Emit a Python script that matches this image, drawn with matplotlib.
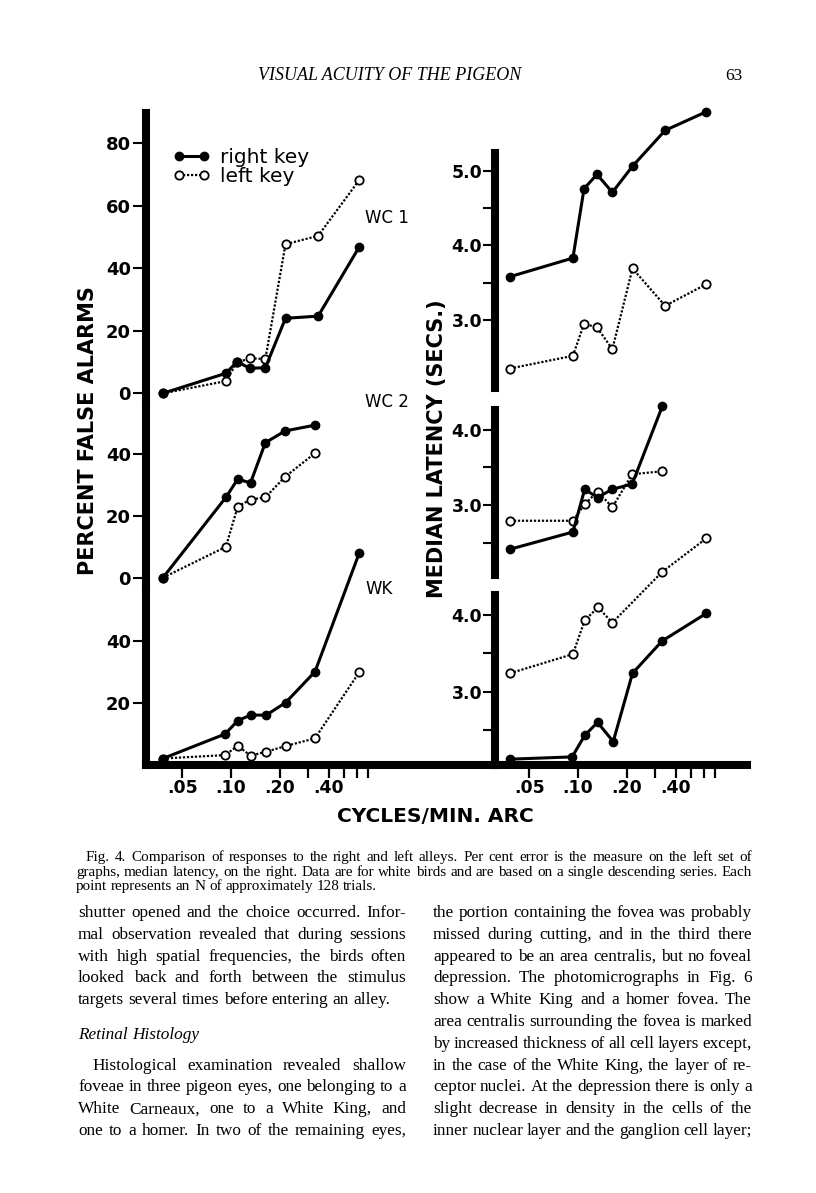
import matplotlib
matplotlib.use("Agg")
import matplotlib.pyplot as plt
from matplotlib.ticker import NullFormatter
from matplotlib.lines import Line2D

W, H = 816, 1193

# spatial frequency (cycles/min arc) of each point
freq_wc1 = [0.038, 0.093, 0.109, 0.131, 0.163, 0.217, 0.345, 0.62]
freq_wc2 = [0.038, 0.093, 0.110, 0.132, 0.163, 0.216, 0.332]
freq_wk = [0.038, 0.092, 0.110, 0.132, 0.165, 0.217, 0.33, 0.618]
freq_wk_lat_left = [0.038, 0.093, 0.110, 0.133, 0.163, 0.33, 0.62]

# percent false alarms (left graphs)
wc1_fa_right = [0, 6.4, 10.1, 8.0, 8.2, 24.0, 24.7, 46.9]
wc1_fa_left = [0, 3.9, 9.9, 11.2, 11.0, 47.7, 50.4, 68.3]
wc2_fa_right = [0, 26.0, 31.9, 30.7, 43.7, 47.5, 49.4]
wc2_fa_left = [0, 10.0, 23.0, 25.3, 26.0, 32.7, 40.4]
wk_fa_right = [2.0, 9.9, 14.2, 16.0, 16.0, 20.0, 30.0, 68.2]
wk_fa_left = [2.0, 3.1, 6.1, 2.9, 4.2, 6.0, 8.5, 29.8]

# median latency in secs (right graphs)
wc1_lat_right = [3.58, 3.83, 4.76, 4.95, 4.71, 5.06, 5.54, 5.79]
wc1_lat_left = [2.35, 2.52, 2.95, 2.90, 2.61, 3.69, 3.19, 3.48]
wc2_lat_right = [2.41, 2.64, 3.21, 3.10, 3.21, 3.28, 4.32]
wc2_lat_left = [2.79, 2.79, 3.01, 3.18, 2.97, 3.41, 3.45]
wk_lat_right = [2.12, 2.15, 2.43, 2.60, 2.35, 3.24, 3.66, 4.02]
wk_lat_left = [3.24, 3.49, 3.93, 4.10, 3.90, 4.56, 5.00]

x_ticks = [0.05, 0.1, 0.2, 0.4]
x_tick_labels = [".05", ".10", ".20", ".40"]
x_minor = [0.3, 0.5, 0.6, 0.7]

caption = [
    "Fig. 4. Comparison of responses to the right and left alleys. Per cent error is the measure on the left set of",
    "graphs, median latency, on the right. Data are for white birds and are based on a single descending series. Each",
    "point represents an N of approximately 128 trials.",
]
left_col = [
    "shutter opened and the choice occurred. Infor-",
    "mal observation revealed that during sessions",
    "with high spatial frequencies, the birds often",
    "looked back and forth between the stimulus",
    "targets several times before entering an alley.",
]
left_col2 = [
    "Histological examination revealed shallow",
    "foveae in three pigeon eyes, one belonging to a",
    "White Carneaux, one to a White King, and",
    "one to a homer. In two of the remaining eyes,",
]
right_col = [
    "the portion containing the fovea was probably",
    "missed during cutting, and in the third there",
    "appeared to be an area centralis, but no foveal",
    "depression. The photomicrographs in Fig. 6",
    "show a White King and a homer fovea. The",
    "area centralis surrounding the fovea is marked",
    "by increased thickness of all cell layers except,",
    "in the case of the White King, the layer of re-",
    "ceptor nuclei. At the depression there is only a",
    "slight decrease in density in the cells of the",
    "inner nuclear layer and the ganglion cell layer;",
]

fig = plt.figure(figsize=(W / 100, H / 100), dpi=100)
fig.patch.set_facecolor("white")

BAR = 5.8  # thick black axis bars, in points


def box(x0, x1, ytop, ybot, bottom=False):
    # axes placed by page pixels (top-left origin)
    ax = fig.add_axes([x0 / W, 1 - ybot / H, (x1 - x0) / W, (ybot - ytop) / H])
    ax.patch.set_alpha(0)
    for name, s in ax.spines.items():
        s.set_visible(name == "left" or (bottom and name == "bottom"))
        s.set_linewidth(BAR)
        s.set_capstyle("projecting")
    return ax


def set_x(ax, x0, x1, x_tenth):
    # hand drawn log axis: about 162 px per decade
    ax.set_xscale("log")
    f = lambda px: 0.1 * 10 ** ((px - x_tenth) / 162.0)
    ax.set_xlim(f(x0), f(x1))


def set_y(ax, ytop, ybot, px_ref, val_ref, px_per_unit):
    v = lambda px: val_ref + (px_ref - px) / px_per_unit
    ax.set_ylim(v(ybot), v(ytop))


def plot_pair(ax, x_r, y_r, x_l, y_l):
    ax.plot(x_l, y_l, color="black", lw=1.6, ls=(0, (1, 0.8)), marker="o", ms=6,
            mfc="white", mec="black", mew=1.3, clip_on=False)
    ax.plot(x_r, y_r, color="black", lw=2.2, marker="o", ms=6,
            mfc="black", mec="black", clip_on=False)


def bottom_ticks(ax):
    ax.set_xticks(x_ticks, labels=x_tick_labels, fontweight="bold", fontsize=12.5)
    ax.set_xticks(x_minor, minor=True)
    ax.xaxis.set_minor_formatter(NullFormatter())
    ax.tick_params(axis="x", which="both", direction="out", length=9, width=1.6, pad=1)


def no_x(ax):
    ax.tick_params(axis="x", which="both", bottom=False, labelbottom=False)


# ---- left: percent false alarms ----
ax1 = box(146, 420, 113, 400)
set_x(ax1, 146, 420, 231)
set_y(ax1, 113, 400, 393.3, 0, 3.125)
plot_pair(ax1, freq_wc1, wc1_fa_right, freq_wc1, wc1_fa_left)
ax1.set_yticks([0, 20, 40, 60, 80], labels=["0", "20", "40", "60", "80"], fontweight="bold", fontsize=13)

ax2 = box(146, 420, 400, 585)
set_x(ax2, 146, 420, 231)
set_y(ax2, 400, 585, 577.7, 0, 3.09)
plot_pair(ax2, freq_wc2, wc2_fa_right, freq_wc2, wc2_fa_left)
ax2.set_yticks([0, 20, 40], labels=["0", "20", "40"], fontweight="bold", fontsize=13)

ax3 = box(146, 495, 585, 765, bottom=True)
set_x(ax3, 146, 495, 231)
set_y(ax3, 585, 765, 764.7, 0, 3.1)
plot_pair(ax3, freq_wk, wk_fa_right, freq_wk, wk_fa_left)
ax3.set_yticks([20, 40], labels=["20", "40"], fontweight="bold", fontsize=13)

for ax in (ax1, ax2, ax3):
    ax.tick_params(axis="y", which="both", direction="out", length=9.4, width=1.5, pad=1.5)
no_x(ax1)
no_x(ax2)
bottom_ticks(ax3)

# ---- right: median latency ----
ax4 = box(495, 747, 153, 388)
set_x(ax4, 495, 747, 578)
set_y(ax4, 153, 388, 320, 3.0, 74.65)
plot_pair(ax4, freq_wc1, wc1_lat_right, freq_wc1, wc1_lat_left)
ax4.set_yticks([3, 4, 5], labels=["3.0", "4.0", "5.0"], fontweight="bold", fontsize=12.5)
ax4.set_yticks([3.5, 4.5], minor=True)

ax5 = box(495, 747, 410, 575)
set_x(ax5, 495, 747, 578)
set_y(ax5, 410, 575, 505, 3.0, 75)
plot_pair(ax5, freq_wc2, wc2_lat_right, freq_wc2, wc2_lat_left)
ax5.set_yticks([3, 4], labels=["3.0", "4.0"], fontweight="bold", fontsize=12.5)
ax5.set_yticks([2.5, 3.5], minor=True)

ax6 = box(495, 747, 595, 765, bottom=True)
set_x(ax6, 495, 747, 578)
set_y(ax6, 595, 765, 691.7, 3.0, 76.7)
plot_pair(ax6, freq_wk, wk_lat_right, freq_wk_lat_left, wk_lat_left)
ax6.set_yticks([3, 4], labels=["3.0", "4.0"], fontweight="bold", fontsize=12.5)
ax6.set_yticks([2.5, 3.5], minor=True)

for ax in (ax4, ax5, ax6):
    ax.yaxis.set_minor_formatter(NullFormatter())
    ax.tick_params(axis="y", which="both", direction="out", length=8.6, width=1.5, pad=0.5)
no_x(ax4)
no_x(ax5)
bottom_ticks(ax6)

# legend
handles = [
    Line2D([], [], color="black", lw=2.2, marker="o", ms=6, mfc="black"),
    Line2D([], [], color="black", lw=1.6, ls=(0, (1, 0.8)), marker="o", ms=6, mfc="white", mew=1.3),
]
fig.legend(handles, ["right key", "left key"], loc="upper left", bbox_to_anchor=(173 / W, 1 - 148 / H),
           frameon=False, numpoints=2, handlelength=1.85, handletextpad=0.5, labelspacing=0.02,
           borderpad=0, borderaxespad=0, prop={"size": 14.5})

# subject names
for name, y in [("WC 1", 218), ("WC 2", 402), ("WK", 589)]:
    fig.text(365 / W, 1 - y / H, name, fontsize=12, ha="left", va="center")

fig.text(88 / W, 1 - 431 / H, "PERCENT FALSE ALARMS", rotation=90, ha="center", va="center",
         fontsize=15, fontweight="bold")
fig.text(437 / W, 1 - 449 / H, "MEDIAN LATENCY (SECS.)", rotation=90, ha="center", va="center",
         fontsize=15, fontweight="bold")
fig.text(435 / W, 1 - 817 / H, "CYCLES/MIN. ARC", ha="center", va="center", fontsize=14.5, fontweight="bold")

# page header
fig.text(390 / W, 1 - 80 / H, "VISUAL ACUITY OF THE PIGEON", family="Liberation Serif", style="italic",
         fontsize=13, ha="center", va="baseline")
fig.text(742 / W, 1 - 80 / H, "63", family="Liberation Serif", fontsize=12.5, ha="right", va="baseline")

# ---- caption and body text, justified word by word ----
renderer = fig.canvas.get_renderer()


def put_line(text, x0, x1, y, size, style="normal", justify=True, indent=0):
    words = text.split(" ")
    arts = [fig.text(0, 1 - y / H, w, family="Liberation Serif", fontsize=size, style=style, va="baseline")
            for w in words]
    widths = [a.get_window_extent(renderer=renderer).width for a in arts]
    x = x0 + indent
    normal = 0.25 * size * 100 / 72
    gap = normal
    if len(words) > 1:
        fit = (x1 - x - sum(widths)) / (len(words) - 1)
        gap = fit if justify else min(normal, fit)
    for a, w in zip(arts, widths):
        a.set_x(x / W)
        x += w + gap


cap_y = [861, 876, 890]
for i, line in enumerate(caption):
    put_line(line, 76, 752, cap_y[i], 10.9, justify=(i < 2), indent=(10 if i == 0 else 0))

step = 21.8
body = 12.4
for i, line in enumerate(left_col):
    put_line(line, 78, 406, 917 + step * i, body, justify=(i < 4))
put_line("Retinal Histology", 78, 406, 917 + step * 5.6, body, style="italic", justify=False)
for i, line in enumerate(left_col2):
    put_line(line, 78, 406, 917 + step * (7 + i), body, indent=(14 if i == 0 else 0))
for i, line in enumerate(right_col):
    put_line(line, 433, 752, 917 + step * i, body)

fig.savefig("out.png", dpi=100, facecolor="white")
